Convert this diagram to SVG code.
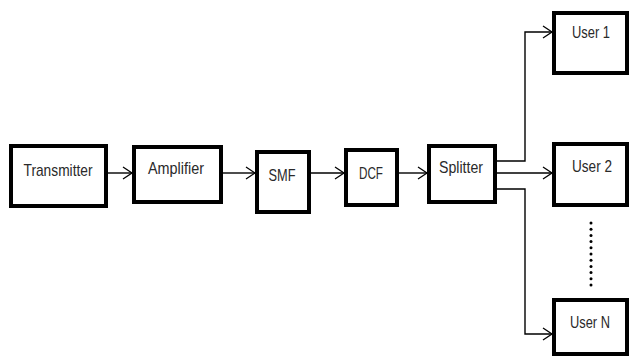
<svg xmlns="http://www.w3.org/2000/svg" width="629" height="358" viewBox="0 0 629 358">
<defs>
<style>
.box{fill:#fff;stroke:#000;stroke-width:4}
.lbl{font-family:"Liberation Sans",Arial,sans-serif;font-size:17px;fill:#2a2a2a;text-anchor:middle}
.con{fill:none;stroke:#000;stroke-width:1.4}
</style>
<marker id="arr" markerWidth="12" markerHeight="14" refX="10" refY="7" orient="auto" markerUnits="userSpaceOnUse">
<path d="M1,1 L10,7 L1,13" fill="none" stroke="#000" stroke-width="1.3"/>
</marker>
</defs>
<rect width="629" height="358" fill="#fff"/>
<g id="connectors">
<line class="con" x1="108" y1="173" x2="132" y2="173" marker-end="url(#arr)"/>
<line class="con" x1="223" y1="173" x2="255" y2="173" marker-end="url(#arr)"/>
<line class="con" x1="311" y1="173" x2="344" y2="173" marker-end="url(#arr)"/>
<line class="con" x1="399" y1="173" x2="427" y2="173" marker-end="url(#arr)"/>
<line class="con" x1="497" y1="173" x2="552" y2="173" marker-end="url(#arr)"/>
<polyline class="con" points="497,161 525,161 525,32 552,32" marker-end="url(#arr)"/>
<polyline class="con" points="497,189 525,189 525,334 552,334" marker-end="url(#arr)"/>
</g>
<g id="transmitter"><rect class="box" x="11" y="146" width="95" height="60"/><text class="lbl" x="58" y="176" textLength="69" lengthAdjust="spacingAndGlyphs">Transmitter</text></g>
<g id="amplifier"><rect class="box" x="134" y="147" width="87" height="55"/><text class="lbl" x="176" y="174" textLength="56" lengthAdjust="spacingAndGlyphs">Amplifier</text></g>
<g id="smf"><rect class="box" x="257" y="152" width="52" height="60"/><text class="lbl" x="282" y="181" textLength="27" lengthAdjust="spacingAndGlyphs">SMF</text></g>
<g id="dcf"><rect class="box" x="346" y="150" width="51" height="55"/><text class="lbl" x="371" y="179" textLength="24" lengthAdjust="spacingAndGlyphs">DCF</text></g>
<g id="splitter"><rect class="box" x="429" y="146" width="66" height="56"/><text class="lbl" x="461" y="173" textLength="44" lengthAdjust="spacingAndGlyphs">Splitter</text></g>
<g id="user1"><rect class="box" x="554" y="13" width="73" height="60"/><text class="lbl" x="591" y="38" textLength="38" lengthAdjust="spacingAndGlyphs">User 1</text></g>
<g id="user2"><rect class="box" x="554" y="144" width="73" height="61"/><text class="lbl" x="592" y="172" textLength="40" lengthAdjust="spacingAndGlyphs">User 2</text></g>
<g id="userN"><rect class="box" x="554" y="300" width="73" height="54"/><text class="lbl" x="590" y="328" textLength="40" lengthAdjust="spacingAndGlyphs">User N</text></g>
<g id="dots" fill="#000">
<circle cx="591" cy="223" r="1.5"/><circle cx="591" cy="229.2" r="1.5"/><circle cx="591" cy="235.4" r="1.5"/><circle cx="591" cy="241.6" r="1.5"/><circle cx="591" cy="247.8" r="1.5"/><circle cx="591" cy="254" r="1.5"/><circle cx="591" cy="260.2" r="1.5"/><circle cx="591" cy="266.4" r="1.5"/><circle cx="591" cy="272.6" r="1.5"/><circle cx="591" cy="278.8" r="1.5"/><circle cx="591" cy="285" r="1.5"/>
</g>
</svg>
